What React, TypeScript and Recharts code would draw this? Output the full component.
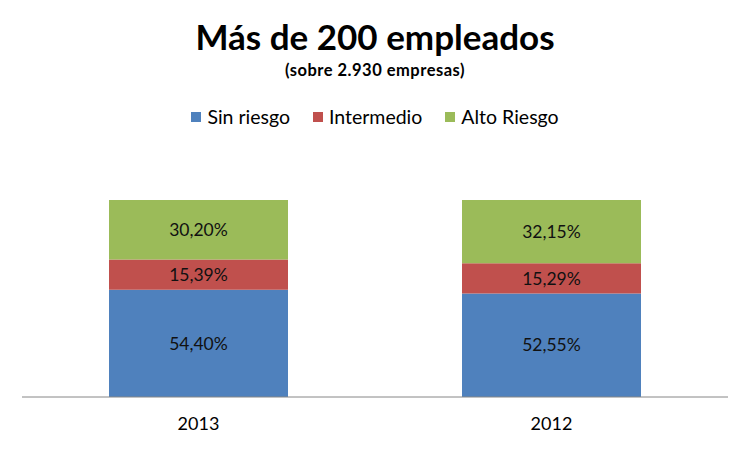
import React from 'react';
import { BarChart, Bar, XAxis, YAxis, LabelList } from 'recharts';

const years = ['2013', '2012'];
const sinRiesgo = [54.4, 52.55];
const intermedio = [15.39, 15.29];
const altoRiesgo = [30.2, 32.15];

const seriesNames = ['Sin riesgo', 'Intermedio', 'Alto Riesgo'];
const seriesColors = ['#4F81BD', '#C0504D', '#9BBB59'];

const data = years.map((y, i) => ({
  year: y,
  sin: sinRiesgo[i],
  inter: intermedio[i],
  alto: altoRiesgo[i],
}));

const FONT = 'Lato, "Open Sans", sans-serif';

function pct(v: any): string {
  return Number(v).toFixed(2).replace('.', ',') + '%';
}

const labelStyle = { fontFamily: FONT, fontSize: 17.5, fill: '#111' };

export default function App() {
  return (
    <div style={{ position: 'relative', width: 750, height: 449, margin: -8, background: '#fff' }}>
      <div style={{ position: 'absolute', top: 16, left: 0, width: 750, textAlign: 'center', fontFamily: FONT, fontWeight: 700, fontSize: 35, lineHeight: '40px', color: '#000' }}>
        Más de 200 empleados
      </div>
      <div style={{ position: 'absolute', top: 61, left: 0, width: 750, textAlign: 'center', fontFamily: FONT, fontWeight: 700, fontSize: 16.5, letterSpacing: 0.5, lineHeight: '18px', color: '#000' }}>
        (sobre 2.930 empresas)
      </div>
      <div style={{ position: 'absolute', top: 106, left: 0, width: 750, display: 'flex', justifyContent: 'center', fontFamily: FONT, fontSize: 19.5, lineHeight: '22px', color: '#000' }}>
        {seriesNames.map((name, i) => (
          <div key={name} style={{ display: 'flex', alignItems: 'center', marginRight: i < 2 ? 23 : 0 }}>
            <span style={{ width: 10, height: 10, background: seriesColors[i], marginRight: 6, display: 'inline-block' }} />
            <span>{name}</span>
          </div>
        ))}
      </div>
      <BarChart width={750} height={449} data={data} margin={{ top: 200, right: 22, bottom: 22, left: 22 }} barSize={179}>
        <XAxis
          dataKey="year"
          height={30}
          tickLine={false}
          tickSize={0}
          tickMargin={20}
          stroke="#868686"
          tick={{ fontFamily: FONT, fontSize: 18, fill: '#000' }}
        />
        <YAxis hide domain={[0, 100]} />
        <Bar dataKey="sin" name={seriesNames[0]} stackId="a" fill={seriesColors[0]} isAnimationActive={false}>
          <LabelList dataKey="sin" position="center" formatter={pct} style={labelStyle} />
        </Bar>
        <Bar dataKey="inter" name={seriesNames[1]} stackId="a" fill={seriesColors[1]} isAnimationActive={false}>
          <LabelList dataKey="inter" position="center" formatter={pct} style={labelStyle} />
        </Bar>
        <Bar dataKey="alto" name={seriesNames[2]} stackId="a" fill={seriesColors[2]} isAnimationActive={false}>
          <LabelList dataKey="alto" position="center" formatter={pct} style={labelStyle} />
        </Bar>
      </BarChart>
    </div>
  );
}
